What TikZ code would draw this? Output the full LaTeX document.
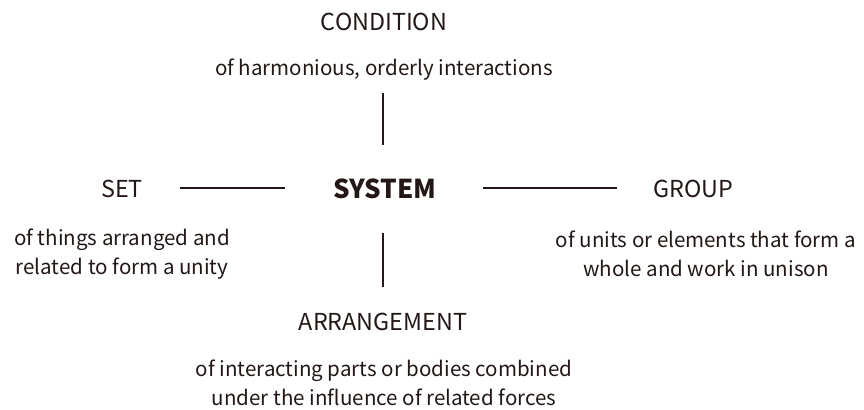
\documentclass[tikz,border=0pt]{standalone}
\usepackage{fontspec}
\usepackage{tikz}
\usetikzlibrary{positioning}
\newfontfamily\srcsans{Noto Sans CJK SC}
\definecolor{InkBrown}{RGB}{35,24,21}

\begin{document}
\begin{tikzpicture}[
 x=0.75pt, y=-0.75pt,
 term/.style={text=InkBrown, inner sep=0pt, font=\srcsans\fontsize{17.5}{20}\selectfont},
 core/.style={text=InkBrown, inner sep=0pt, font=\srcsans\bfseries\fontsize{19.5}{22}\selectfont},
 gloss/.style={text=InkBrown, inner sep=0pt, align=center, font=\srcsans\fontsize{15.4}{21.8}\selectfont},
 link/.style={draw=InkBrown, line width=1.4pt},
]
\useasboundingbox (0,0) rectangle (864,410);
\node[core] (system) at (385,189) {SYSTEM};
\node[term] (condition) at (384,22) {CONDITION};
\node[gloss] (conditiontxt) at (384,70) {of harmonious, orderly interactions};
\node[term] (set) at (122,189) {SET};
\node[gloss] (settxt) at (122,254) {of things arranged and\\related to form a unity};
\node[term] (group) at (693,189) {GROUP};
\node[gloss] (grouptxt) at (706,254) {of units or elements that form a\\whole and work in unison};
\node[term] (arrangement) at (383,322) {ARRANGEMENT};
\node[gloss] (arrangementtxt) at (384,383) {of interacting parts or bodies combined\\under the influence of related forces};

\coordinate (up1) at (383,93);
\coordinate (up2) at (383,145);
\coordinate (dn1) at (383,233);
\coordinate (dn2) at (383,287);
\coordinate (lf1) at (180,188);
\coordinate (lf2) at (285,188);
\coordinate (rt1) at (483,188);
\coordinate (rt2) at (617,188);
\draw[link] (up1) -- (up2);
\draw[link] (dn1) -- (dn2);
\draw[link] (lf1) -- (lf2);
\draw[link] (rt1) -- (rt2);
\end{tikzpicture}
\end{document}
